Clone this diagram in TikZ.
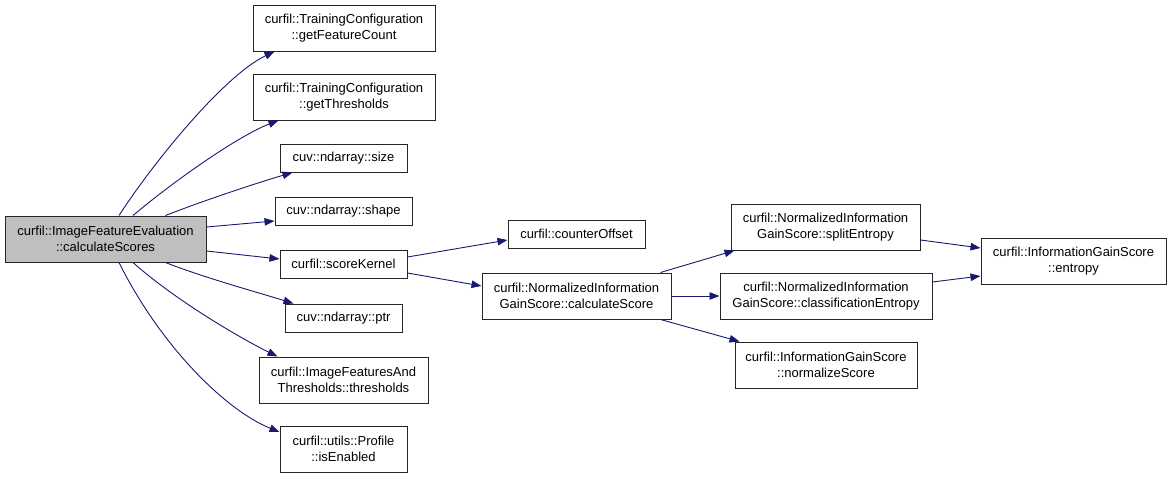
\documentclass[tikz,border=0pt]{standalone}
\usepackage{fontspec}
\setmainfont{Liberation Sans}
\usetikzlibrary{arrows.meta}
\definecolor{EdgeBlue}{RGB}{25,25,112}
\definecolor{RootGray}{RGB}{191,191,191}
\tikzset{
	fn/.style={draw=black!85, line width=1pt, fill=white, align=center, inner sep=2pt,
		font=\fontsize{13}{16.5}\selectfont, minimum height=28pt},
	fn2/.style={fn, minimum height=46pt},
	root/.style={fn2, fill=RootGray},
	call/.style={draw=EdgeBlue, line width=0.9pt, -{Triangle[length=10pt,width=7.5pt]}}
}

\begin{document}
\begin{tikzpicture}[x=1pt, y=-1pt]
		\useasboundingbox (0,0) rectangle (1171,477);
		% caller
		\node[root, minimum width=201pt] (main) at (105.5,239) {curfil::ImageFeatureEvaluation\\::calculateScores};
		% first level
		\node[fn2, minimum width=182pt] (gfc) at (344,28) {curfil::TrainingConfiguration\\::getFeatureCount};
		\node[fn2, minimum width=182pt] (gth) at (344,97) {curfil::TrainingConfiguration\\::getThresholds};
		\node[fn, minimum width=127pt] (size) at (343.5,158) {cuv::ndarray::size};
		\node[fn, minimum width=137pt] (shape) at (343.5,211) {cuv::ndarray::shape};
		\node[fn, minimum width=127pt] (sk) at (343.5,264) {curfil::scoreKernel};
		\node[fn, minimum width=117pt] (ptr) at (343.5,318) {cuv::ndarray::ptr};
		\node[fn2, minimum width=169pt] (thr) at (343.5,380) {curfil::ImageFeaturesAnd\\Thresholds::thresholds};
		\node[fn2, minimum width=127pt] (ise) at (343.5,449) {curfil::utils::Profile\\::isEnabled};
		% second level
		\node[fn, minimum width=137pt] (co) at (576.5,234) {curfil::counterOffset};
		\node[fn2, minimum width=189pt] (cs) at (576.5,296) {curfil::NormalizedInformation\\GainScore::calculateScore};
		% third level
		\node[fn2, minimum width=189pt] (se) at (825.5,227) {curfil::NormalizedInformation\\GainScore::splitEntropy};
		\node[fn2, minimum width=212pt] (ce) at (826,296) {curfil::NormalizedInformation\\GainScore::classificationEntropy};
		\node[fn2, minimum width=182pt] (ns) at (826,365) {curfil::InformationGainScore\\::normalizeScore};
		\node[fn2, minimum width=185pt] (ent) at (1073.5,261) {curfil::InformationGainScore\\::entropy};
		% calls
		\draw[call] ([xshift=13.5pt]main.north) .. controls (155,160) and (225,75) .. ([xshift=22pt]gfc.south west);
		\draw[call] ([xshift=27.5pt]main.north) .. controls (175,180) and (240,135) .. ([xshift=26pt]gth.south west);
		\draw[call] ([xshift=60pt]main.north) .. controls (205,200) and (260,182) .. ([xshift=13pt]size.south west);
		\draw[call] ([yshift=12pt]main.east) -- ([yshift=-10pt]shape.west);
		\draw[call] ([yshift=-12pt]main.east) -- ([yshift=5pt]sk.west);
		\draw[call] ([xshift=60pt]main.south) .. controls (205,278) and (260,293) .. ([xshift=9pt]ptr.north west);
		\draw[call] ([xshift=27.5pt]main.south) .. controls (175,300) and (240,338) .. ([xshift=19pt]thr.north west);
		\draw[call] ([xshift=13.5pt]main.south) .. controls (160,345) and (225,410) .. ([yshift=17pt]ise.west);
		\draw[call] ([yshift=7pt]sk.east) -- ([yshift=-6pt]co.west);
		\draw[call] ([yshift=-9pt]sk.east) -- ([yshift=10pt]cs.west);
		\draw[call] ([xshift=-11pt]cs.north east) -- ([xshift=4pt]se.south west);
		\draw[call] (cs.east) -- (ce.west);
		\draw[call] ([xshift=-11pt]cs.south east) -- ([xshift=5pt]ns.north west);
		\draw[call] ([yshift=-13pt]se.east) -- ([yshift=13pt]ent.west);
		\draw[call] ([yshift=14pt]ce.east) -- ([yshift=-15pt]ent.west);
	\end{tikzpicture}
\end{document}
